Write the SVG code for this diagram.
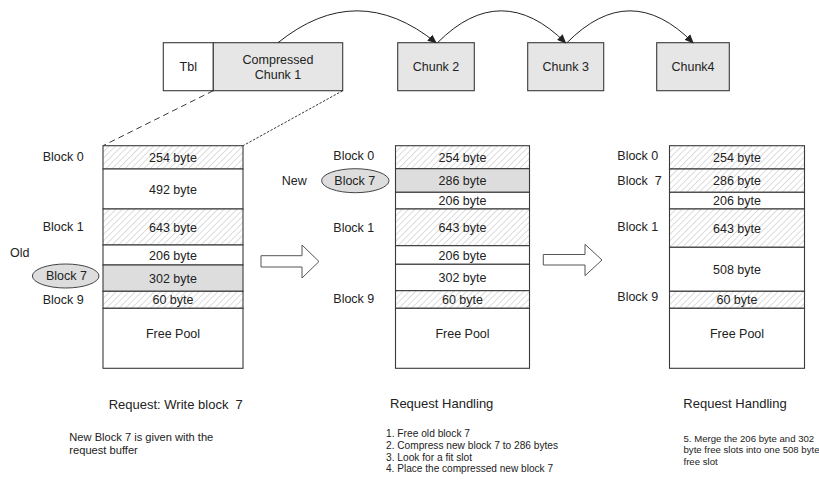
<svg xmlns="http://www.w3.org/2000/svg" width="819" height="495" viewBox="0 0 819 495">
<style>
text{font-family:"Liberation Sans",Arial,sans-serif;font-size:12.5px;fill:#222}
.c{text-anchor:middle}
.cap{font-size:13px}
.dl{font-size:11.5px}
.d{font-size:11.3px}
.dr{font-size:9.6px}
.box{stroke:#3a3a3a;stroke-width:1.1}
.w{fill:#fff}
.g{fill:#e6e6e6}
.gd{fill:#dddddd}
.h{fill:url(#hatch)}
.conn{fill:none;stroke:#222;stroke-width:1}
.hollow{fill:#fff;stroke:#555;stroke-width:1}
</style>
<defs>
<pattern id="hatch" patternUnits="userSpaceOnUse" width="4.5" height="4.5" patternTransform="rotate(45)">
<rect width="4.5" height="4.5" fill="#fff"/>
<line x1="0" y1="0" x2="0" y2="4.5" stroke="#a8a8a8" stroke-width="0.8"/>
</pattern>
<marker id="ah" markerWidth="9" markerHeight="8" refX="8" refY="4" orient="auto" markerUnits="userSpaceOnUse">
<path d="M0,0 L9,4 L0,8 z" fill="#222"/>
</marker>
</defs>
<rect width="819" height="495" fill="#fff"/>

<g id="tbl">
<rect class="box w" x="163.3" y="42.7" width="50" height="48"/>
<text class="c" x="188.3" y="71">Tbl</text>
</g>
<g id="chunk1">
<rect class="box g" x="213.3" y="42.7" width="129.4" height="48"/>
<text class="c" x="278" y="63.5">Compressed</text>
<text class="c" x="278" y="79">Chunk 1</text>
</g>
<g id="chunk2">
<rect class="box g" x="397.7" y="42.7" width="76.6" height="48"/>
<text class="c" x="436" y="71">Chunk 2</text>
</g>
<g id="chunk3">
<rect class="box g" x="527.7" y="42.7" width="76" height="48"/>
<text class="c" x="565.7" y="71">Chunk 3</text>
</g>
<g id="chunk4">
<rect class="box g" x="656.7" y="42.7" width="72.6" height="48"/>
<text class="c" x="693" y="71">Chunk4</text>
</g>

<g id="connectors">
<path class="conn" d="M278,42.7 Q357,-21 436,42.7" marker-end="url(#ah)"/>
<path class="conn" d="M437.5,42.7 Q501,-21 565.5,42.7" marker-end="url(#ah)"/>
<path class="conn" d="M567,42.7 Q630,-21 693,42.7" marker-end="url(#ah)"/>
<line x1="213.3" y1="90.7" x2="103" y2="145.7" stroke="#222" stroke-width="0.9" stroke-dasharray="6,4"/>
<line x1="342.7" y1="90.7" x2="243" y2="145.7" stroke="#222" stroke-width="0.9" stroke-dasharray="2.5,1.5"/>
<polygon class="hollow" points="261,255.7 302,255.7 302,245 319,261.5 302,278 302,267 261,267"/>
<polygon class="hollow" points="543.3,254.5 585,254.5 585,244.3 602,260 585,275.7 585,265 543.3,265"/>
</g>

<g id="col-left">
<rect class="box h" x="103" y="145.7" width="140" height="23.3"/>
<rect class="box w" x="103" y="169" width="140" height="40"/>
<rect class="box h" x="103" y="209" width="140" height="36"/>
<rect class="box w" x="103" y="245" width="140" height="20"/>
<rect class="box gd" x="103" y="265" width="140" height="26.3"/>
<rect class="box h" x="103" y="291.3" width="140" height="17"/>
<rect class="box w" x="103" y="308.3" width="140" height="60"/>
<text class="c" x="173" y="162">254 byte</text>
<text class="c" x="173" y="193.5">492 byte</text>
<text class="c" x="173" y="231.5">643 byte</text>
<text class="c" x="173" y="259.5">206 byte</text>
<text class="c" x="173" y="282.5">302 byte</text>
<text class="c" x="173" y="304.3">60 byte</text>
<text class="c" x="173" y="338.3">Free Pool</text>
<text x="42.7" y="160.7">Block 0</text>
<text x="42.7" y="230.7">Block 1</text>
<text x="10" y="257">Old</text>
<ellipse cx="65.7" cy="276" rx="33.3" ry="12" fill="#dddddd" stroke="#444" stroke-width="1"/>
<text x="46" y="280.2">Block 7</text>
<text x="42.7" y="304">Block 9</text>
</g>

<g id="col-middle">
<rect class="box h" x="395.5" y="145.7" width="134" height="23"/>
<rect class="box gd" x="395.5" y="168.7" width="134" height="23.6"/>
<rect class="box w" x="395.5" y="192.3" width="134" height="16.7"/>
<rect class="box h" x="395.5" y="209" width="134" height="36.7"/>
<rect class="box w" x="395.5" y="245.7" width="134" height="18.6"/>
<rect class="box w" x="395.5" y="264.3" width="134" height="26.4"/>
<rect class="box h" x="395.5" y="290.7" width="134" height="17.6"/>
<rect class="box w" x="395.5" y="308.3" width="134" height="60"/>
<text class="c" x="462.5" y="161.8">254 byte</text>
<text class="c" x="462.5" y="185">286 byte</text>
<text class="c" x="462.5" y="205.2">206 byte</text>
<text class="c" x="462.5" y="232">643 byte</text>
<text class="c" x="462.5" y="259.5">206 byte</text>
<text class="c" x="462.5" y="282">302 byte</text>
<text class="c" x="462.5" y="304">60 byte</text>
<text class="c" x="462.5" y="338.3">Free Pool</text>
<text x="333.3" y="160">Block 0</text>
<text x="281.7" y="185.3">New</text>
<ellipse cx="355.3" cy="180.7" rx="33.7" ry="12" fill="#dddddd" stroke="#444" stroke-width="1"/>
<text x="334.3" y="185">Block 7</text>
<text x="333.3" y="231.5">Block 1</text>
<text x="333.3" y="303.3">Block 9</text>
</g>

<g id="col-right">
<rect class="box h" x="669.5" y="145.7" width="135" height="23.3"/>
<rect class="box h" x="669.5" y="169" width="135" height="23.3"/>
<rect class="box w" x="669.5" y="192.3" width="135" height="16.7"/>
<rect class="box h" x="669.5" y="209" width="135" height="38.3"/>
<rect class="box w" x="669.5" y="247.3" width="135" height="44"/>
<rect class="box h" x="669.5" y="291.3" width="135" height="17"/>
<rect class="box w" x="669.5" y="308.3" width="135" height="60"/>
<text class="c" x="737" y="162">254 byte</text>
<text class="c" x="737" y="185.2">286 byte</text>
<text class="c" x="737" y="205.2">206 byte</text>
<text class="c" x="737" y="232.6">643 byte</text>
<text class="c" x="737" y="273.8">508 byte</text>
<text class="c" x="737" y="304.3">60 byte</text>
<text class="c" x="737" y="338.3">Free Pool</text>
<text x="617.3" y="159.5">Block 0</text>
<text x="617.3" y="185" xml:space="preserve">Block  7</text>
<text x="617.3" y="230.7">Block 1</text>
<text x="617.3" y="300.5">Block 9</text>
</g>

<g id="captions">
<text class="cap" x="108.7" y="408.5" xml:space="preserve">Request: Write block  7</text>
<text class="dl" x="69.3" y="440.5" textLength="144" lengthAdjust="spacingAndGlyphs">New Block 7 is given with the</text>
<text class="dl" x="69.3" y="454" textLength="68.5" lengthAdjust="spacingAndGlyphs">request buffer</text>
<text class="cap" x="390" y="408">Request Handling</text>
<text class="d" x="386" y="437" textLength="84" lengthAdjust="spacingAndGlyphs">1. Free old block 7</text>
<text class="d" x="386" y="448.8" textLength="172" lengthAdjust="spacingAndGlyphs">2. Compress new block 7 to 286 bytes</text>
<text class="d" x="386" y="460.6" textLength="86" lengthAdjust="spacingAndGlyphs">3. Look for a fit slot</text>
<text class="d" x="386" y="472.4" textLength="167" lengthAdjust="spacingAndGlyphs">4. Place the compressed new block 7</text>
<text class="cap" x="683.3" y="408">Request Handling</text>
<text class="dr" x="683.5" y="441.5">5. Merge the 206 byte and 302</text>
<text class="dr" x="683.5" y="453.3">byte free slots into one 508 byte</text>
<text class="dr" x="683.5" y="465.1">free slot</text>
</g>
</svg>
